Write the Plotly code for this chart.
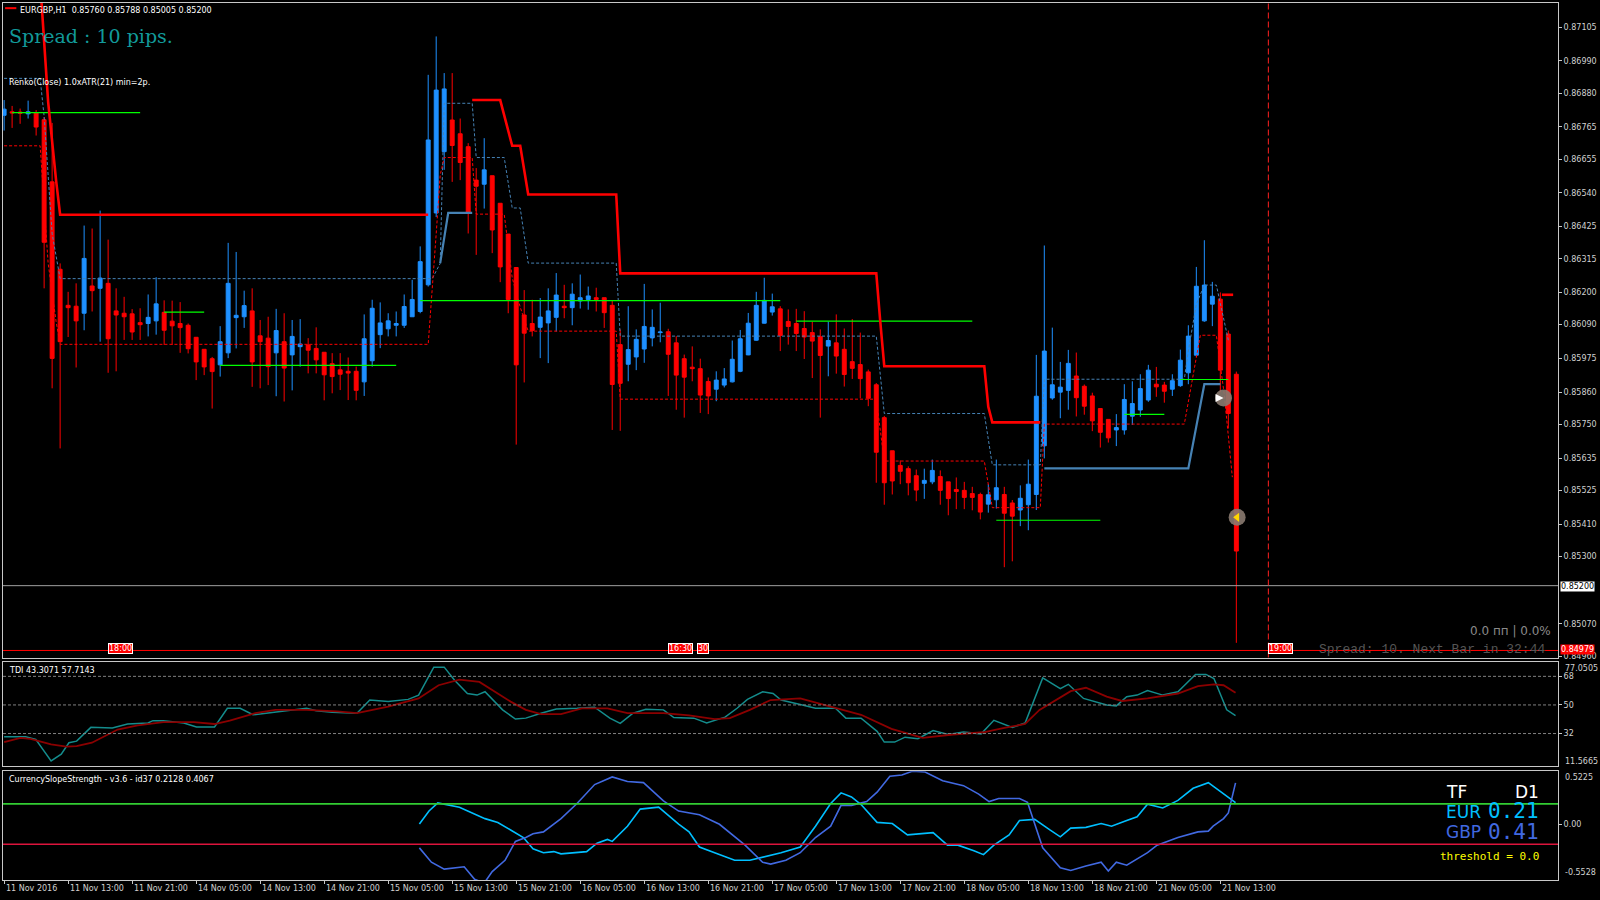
import plotly.graph_objects as go

# ---- EURGBP H1 candles (bar index 0 = 11 Nov 2016 05:00) ----
opens = [0.86804, 0.86816, 0.86815, 0.86809, 0.86813, 0.86789, 0.86577, 0.86279, 0.86156, 0.86153,
         0.86129, 0.86222, 0.86214, 0.86231, 0.86137, 0.86129, 0.86127, 0.86097, 0.86094, 0.86103,
         0.86132, 0.86102, 0.86094, 0.86088, 0.86047, 0.86006, 0.85974, 0.85953, 0.85994, 0.86114,
         0.86117, 0.86137, 0.86052, 0.86044, 0.85994, 0.86032, 0.85987, 0.86015, 0.86021, 0.86009,
         0.85996, 0.85957, 0.85936, 0.85931, 0.85931, 0.85895, 0.85967, 0.86056, 0.86076, 0.86088,
         0.86088, 0.86117, 0.86135, 0.86226, 0.86471, 0.86680, 0.86788, 0.86741, 0.86697, 0.86583,
         0.86569, 0.86598, 0.86504, 0.86399, 0.86285, 0.86123, 0.86094, 0.86081, 0.86096, 0.86115,
         0.86153, 0.86148, 0.86171, 0.86176, 0.86182, 0.86182, 0.86156, 0.86022, 0.85955, 0.85980,
         0.86007, 0.86045, 0.86063, 0.86066, 0.86028, 0.85974, 0.85945, 0.85940, 0.85896, 0.85870,
         0.85884, 0.85895, 0.85931, 0.85987, 0.86037, 0.86095, 0.86133, 0.86144, 0.86101, 0.86094,
         0.86077, 0.86063, 0.86049, 0.86017, 0.86028, 0.86006, 0.85964, 0.85954, 0.85929, 0.85885,
         0.85773, 0.85660, 0.85610, 0.85599, 0.85575, 0.85549, 0.85554, 0.85572, 0.85554, 0.85528,
         0.85525, 0.85514, 0.85511, 0.85478, 0.85493, 0.85511, 0.85482, 0.85458, 0.85476, 0.85511,
         0.85677, 0.85840, 0.85860, 0.85866, 0.85915, 0.85880, 0.85847, 0.85804, 0.85767, 0.85731,
         0.85731, 0.85778, 0.85799, 0.85833, 0.85887, 0.85884, 0.85870, 0.85882, 0.85926, 0.85986,
         0.86103, 0.86160, 0.86177, 0.86058, 0.85921]
highs = [0.86856, 0.86836, 0.86827, 0.86854, 0.86822, 0.86798, 0.86778, 0.86299, 0.86202, 0.86231,
         0.86428, 0.86418, 0.86479, 0.86380, 0.86214, 0.86185, 0.86143, 0.86146, 0.86193, 0.86252,
         0.86173, 0.86172, 0.86167, 0.86094, 0.86047, 0.86006, 0.85980, 0.86085, 0.86369, 0.86338,
         0.86206, 0.86214, 0.86106, 0.86117, 0.86144, 0.86129, 0.86106, 0.86109, 0.86044, 0.86081,
         0.85996, 0.85993, 0.85993, 0.85978, 0.85947, 0.86125, 0.86175, 0.86166, 0.86129, 0.86135,
         0.86193, 0.86243, 0.86357, 0.86942, 0.87073, 0.86948, 0.86948, 0.86793, 0.86709, 0.86624,
         0.86726, 0.86598, 0.86504, 0.86399, 0.86285, 0.86208, 0.86175, 0.86181, 0.86214, 0.86266,
         0.86226, 0.86231, 0.86261, 0.86220, 0.86216, 0.86182, 0.86173, 0.86074, 0.86153, 0.86074,
         0.86229, 0.86142, 0.86165, 0.86076, 0.86051, 0.85988, 0.86016, 0.85974, 0.85910, 0.85931,
         0.85942, 0.86036, 0.86072, 0.86130, 0.86202, 0.86250, 0.86196, 0.86153, 0.86142, 0.86144,
         0.86136, 0.86100, 0.86074, 0.86101, 0.86125, 0.86077, 0.86109, 0.86063, 0.85937, 0.85891,
         0.85779, 0.85660, 0.85627, 0.85607, 0.85596, 0.85599, 0.85630, 0.85593, 0.85554, 0.85569,
         0.85554, 0.85537, 0.85517, 0.85546, 0.85630, 0.85537, 0.85492, 0.85542, 0.85630, 0.85987,
         0.86360, 0.86080, 0.85963, 0.86004, 0.85995, 0.85886, 0.85858, 0.85804, 0.85767, 0.85785,
         0.85887, 0.85897, 0.85921, 0.85953, 0.85946, 0.85895, 0.85921, 0.86005, 0.86088, 0.86287,
         0.86378, 0.86236, 0.86200, 0.86070, 0.85930]
lows = [0.86752, 0.86761, 0.86775, 0.86793, 0.86735, 0.86214, 0.85873, 0.85668, 0.86048, 0.85944,
        0.86071, 0.86135, 0.86032, 0.85926, 0.85931, 0.86038, 0.86038, 0.86038, 0.86050, 0.86056,
        0.86021, 0.86021, 0.85994, 0.85992, 0.85901, 0.85918, 0.85804, 0.85913, 0.85976, 0.86009,
        0.86079, 0.85878, 0.85873, 0.85884, 0.85846, 0.85828, 0.85866, 0.85947, 0.85924, 0.85924,
        0.85832, 0.85856, 0.85867, 0.85833, 0.85832, 0.85847, 0.85947, 0.86010, 0.86050, 0.86050,
        0.86079, 0.86117, 0.86129, 0.86220, 0.86457, 0.86618, 0.86577, 0.86583, 0.86401, 0.86328,
        0.86486, 0.86334, 0.86235, 0.86129, 0.85681, 0.85893, 0.86050, 0.85976, 0.85959, 0.86067,
        0.86112, 0.86088, 0.86145, 0.86141, 0.86135, 0.86079, 0.85731, 0.85728, 0.85897, 0.85935,
        0.85960, 0.86016, 0.86030, 0.85847, 0.85800, 0.85773, 0.85897, 0.85789, 0.85785, 0.85829,
        0.85876, 0.85893, 0.85928, 0.85986, 0.86035, 0.86094, 0.86121, 0.86000, 0.86022, 0.86000,
        0.85973, 0.85908, 0.85773, 0.85914, 0.85923, 0.85879, 0.85905, 0.85839, 0.85812, 0.85551,
        0.85476, 0.85511, 0.85546, 0.85508, 0.85488, 0.85496, 0.85546, 0.85476, 0.85440, 0.85461,
        0.85461, 0.85457, 0.85426, 0.85449, 0.85463, 0.85263, 0.85283, 0.85403, 0.85389, 0.85458,
        0.85634, 0.85834, 0.85771, 0.85800, 0.85777, 0.85783, 0.85727, 0.85671, 0.85688, 0.85676,
        0.85715, 0.85748, 0.85776, 0.85827, 0.85844, 0.85824, 0.85847, 0.85878, 0.85887, 0.85980,
        0.86100, 0.86085, 0.85860, 0.85736, 0.85005]
closes = [0.86825, 0.86812, 0.86811, 0.86816, 0.86764, 0.86371, 0.85975, 0.86032, 0.86148, 0.86103,
          0.86316, 0.86206, 0.86249, 0.86042, 0.86123, 0.86117, 0.86065, 0.86090, 0.86115, 0.86161,
          0.86071, 0.86086, 0.86080, 0.86008, 0.85963, 0.85946, 0.85930, 0.86032, 0.86231, 0.86122,
          0.86155, 0.85963, 0.86032, 0.85947, 0.86070, 0.85942, 0.86050, 0.86024, 0.86003, 0.85970,
          0.85919, 0.85913, 0.85921, 0.85925, 0.85866, 0.86042, 0.86146, 0.86096, 0.86103, 0.86094,
          0.86152, 0.86176, 0.86305, 0.86720, 0.86890, 0.86894, 0.86701, 0.86643, 0.86471, 0.86562,
          0.86618, 0.86413, 0.86287, 0.86176, 0.85953, 0.86061, 0.86070, 0.86116, 0.86137, 0.86191,
          0.86148, 0.86194, 0.86182, 0.86188, 0.86176, 0.86131, 0.85886, 0.85890, 0.86005, 0.86040,
          0.86084, 0.86081, 0.86065, 0.85989, 0.85918, 0.85911, 0.85940, 0.85850, 0.85847, 0.85901,
          0.85905, 0.85972, 0.86042, 0.86095, 0.86156, 0.86173, 0.86151, 0.86053, 0.86084, 0.86060,
          0.86048, 0.86034, 0.85985, 0.86036, 0.85983, 0.85920, 0.85941, 0.85906, 0.85839, 0.85655,
          0.85551, 0.85557, 0.85590, 0.85551, 0.85526, 0.85559, 0.85593, 0.85525, 0.85497, 0.85521,
          0.85501, 0.85501, 0.85451, 0.85510, 0.85534, 0.85447, 0.85437, 0.85498, 0.85546, 0.85846,
          0.86000, 0.85885, 0.85877, 0.85958, 0.85841, 0.85812, 0.85762, 0.85723, 0.85704, 0.85739,
          0.85835, 0.85821, 0.85872, 0.85935, 0.85878, 0.85863, 0.85899, 0.85969, 0.86051, 0.86221,
          0.86225, 0.86187, 0.85935, 0.85787, 0.85318]
bars = list(range(len(closes)))

# Renko trail lines (bar position, price)
trail_red_x = [4.6, 5.5, 6.5, 7, 53, None, 58.5, 62, 63.5, 64.5, 65.5, 76.5, 77, 109, 109.5, 110,
               122.5, 123, 123.5, 129.5, None, 152.2, 153.6]
trail_red_y = [0.8722, 0.8685, 0.8658, 0.86465, 0.86465, None, 0.86856, 0.86856, 0.8670, 0.8670,
               0.86534, 0.86534, 0.86265, 0.86265, 0.8610, 0.85948, 0.85948, 0.8581, 0.85757, 0.85757,
               None, 0.86192, 0.86192]
upper_dash_x = [0, 4.5, 5, 5.5, 6, 7, 53.5, 54.5, 55, 58.5, 59, 62.5, 63.5, 64.5, 65.5, 76.5, 77,
                109, 110, 122.5, 123.5, 129.5, 130, 147.5, 148, 149, 150, 151.5, 152.5, 153]
upper_dash_y = [0.86930, 0.86930, 0.8680, 0.8660, 0.8640, 0.86247, 0.86247, 0.86299, 0.86845,
                0.86845, 0.8666, 0.8666, 0.86488, 0.86488, 0.86300, 0.86300, 0.86051, 0.86051,
                0.85787, 0.85787, 0.85612, 0.85612, 0.85904, 0.85904, 0.86000, 0.86160, 0.86225,
                0.86225, 0.8610, 0.86037]
lower_dash_x = [0, 4.5, 5, 5.5, 6.5, 7, 53, 53.5, 54, 54.5, 55, 58.5, 59, 62.5, 63.5, 64.5, 65.5,
                76.5, 77, 109, 110, 122.5, 123.5, 129.5, 130, 147.5, 148.5, 149.5, 151.5, 152.5, 153.5]
lower_dash_y = [0.86700, 0.86700, 0.8650, 0.8630, 0.8610, 0.86023, 0.86023, 0.8620, 0.8640, 0.8660,
                0.8666, 0.8666, 0.86467, 0.86467, 0.8625, 0.8615, 0.86068, 0.86068, 0.85836, 0.85836,
                0.85625, 0.85625, 0.85466, 0.85466, 0.85751, 0.85751, 0.8590, 0.86054, 0.86054,
                0.8585, 0.8557]
lower_solid_x = [54.5, 55.5, 58.5, None, 130, 148, 150, 152]
lower_solid_y = [0.8630, 0.86471, 0.86471, None, 0.85600, 0.85600, 0.85887, 0.85887]
green_start = [1, 20, 27, 52, 99, 124, 140, 147]
green_end = [17, 25, 49, 97, 121, 137, 145, 153]
green_level = [0.86813, 0.86133, 0.85951, 0.86172, 0.86102, 0.85423, 0.85784, 0.85903]

bid_price = 0.85200
ask_price = 0.84979
price_ticks = [0.87105, 0.86990, 0.86880, 0.86765, 0.86655, 0.86540, 0.86425, 0.86315, 0.86200,
               0.86090, 0.85975, 0.85860, 0.85750, 0.85635, 0.85525, 0.85410, 0.85300, 0.85070, 0.84960]

# TDI
tdi_sig_x = [0, 2.7, 3.95, 5.87, 7.14, 8.1, 9.06, 10.84, 13.52, 15.43, 17.98, 18.6, 19.9, 22.45, 24.04,
             26.3, 27.9, 29.5, 31.1, 32.6, 36.5, 37.8, 39.0, 41.0, 44.1, 45.7, 48.0, 50.5, 51.8, 53.7,
             55.0, 56.3, 57.9, 59.1, 60.1, 62.3, 63.9, 65.2, 67.1, 69.0, 71.6, 73.8, 75.7, 77.0, 78.6,
             80.2, 82.4, 83.7, 86.2, 87.8, 90.1, 91.6, 92.9, 94.8, 96.1, 97.1, 99.5, 101.4, 103.9, 105.2,
             107.1, 109.1, 110.0, 111.3, 112.6, 114.2, 116.1, 118.0, 119.9, 122.1, 123.7, 126.0, 127.6,
             129.8, 132.0, 133.0, 134.9, 137.8, 139.0, 140.3, 141.6, 142.9, 144.8, 146.7, 148.9, 150.2,
             151.2, 152.8, 153.9]
tdi_sig_y = [29.9, 29.9, 28.3, 14.8, 19.0, 26.2, 27.2, 35.9, 35.5, 38.0, 38.6, 40.1, 40.1, 38.6, 36.1,
             36.1, 47.9, 47.9, 43.8, 44.8, 47.5, 47.9, 46.3, 45.4, 44.8, 53.1, 52.1, 53.5, 56.2, 73.8,
             73.8, 65.5, 57.2, 56.2, 58.3, 46.9, 41.1, 41.7, 44.8, 47.5, 47.9, 48.6, 41.7, 38.4, 44.8,
             47.3, 46.9, 42.1, 41.7, 38.6, 42.3, 47.9, 53.5, 58.3, 57.2, 53.1, 50.3, 47.9, 47.9, 41.7,
             41.7, 33.4, 26.6, 26.6, 29.7, 28.7, 33.9, 31.4, 33.0, 31.8, 40.3, 35.9, 38.6, 67.0, 60.3,
             63.0, 54.1, 50.0, 49.4, 55.2, 56.2, 59.1, 56.2, 58.3, 69.2, 69.2, 66.6, 46.9, 43.3]
tdi_base_x = [0, 2.04, 3.3, 5.87, 7.78, 9.06, 10.97, 14.2, 16.7, 19.9, 23.7, 26.3, 28.2, 31.4, 33.9,
              37.8, 41.6, 44.1, 48.0, 51.8, 54.3, 56.9, 59.4, 61.4, 63.3, 65.2, 67.1, 69.6, 72.2, 75.4,
              77.9, 82.4, 85.6, 88.8, 90.7, 93.2, 95.8, 99.5, 103.3, 107.1, 110.9, 114.8, 118.6, 122.4,
              125.0, 127.6, 129.4, 132.0, 133.3, 135.2, 137.8, 139.7, 142.9, 146.7, 149.2, 151.2, 152.4,
              153.9]
tdi_base_y = [26.6, 29.3, 28.7, 25.2, 23.7, 24.1, 26.2, 34.5, 37.2, 39.2, 39.2, 38.0, 40.1, 44.8, 46.9,
              46.9, 45.9, 44.8, 49.0, 54.1, 62.4, 65.9, 64.5, 58.3, 52.1, 46.9, 44.2, 44.2, 47.9, 47.9,
              44.8, 44.8, 43.4, 41.1, 41.7, 46.9, 53.1, 54.1, 49.0, 43.8, 34.9, 29.3, 31.4, 32.8, 35.5,
              38.0, 46.9, 54.6, 58.7, 60.8, 55.2, 52.5, 54.1, 57.2, 61.8, 63.0, 62.4, 57.7]
tdi_levels = [68, 50, 32]
tdi_min, tdi_max = 11.5665, 77.0505

# Currency slope strength
eur_x = [51.9, 53.1, 54.2, 56.9, 60.1, 61.7, 63.3, 64.9, 66.1, 67.4, 68.7, 69.6, 72.8, 74.1, 75.4, 76.0,
         77.9, 79.5, 81.8, 84.3, 85.6, 86.9, 88.8, 91.3, 93.2, 95.2, 97.1, 99.5, 101.4, 103.3, 104.6,
         105.9, 107.1, 109.1, 111.0, 112.9, 114.8, 116.1, 117.9, 119.2, 121.2, 122.4, 123.7, 125.6,
         126.9, 128.8, 130.7, 132.0, 133.3, 135.2, 137.1, 138.4, 140.3, 141.6, 142.9, 144.8, 146.7,
         148.6, 150.5, 152.4, 153.9]
eur_y = [0.0, 0.13, 0.21, 0.167, 0.054, 0.016, -0.058, -0.133, -0.245, -0.283, -0.272, -0.294, -0.272,
         -0.189, -0.152, -0.171, -0.021, 0.148, 0.167, 0.0, -0.077, -0.227, -0.283, -0.358, -0.358,
         -0.321, -0.283, -0.227, -0.021, 0.204, 0.309, 0.268, 0.193, 0.017, 0.006, -0.107, -0.096,
         -0.084, -0.208, -0.208, -0.264, -0.302, -0.208, -0.107, 0.036, 0.047, -0.058, -0.126, -0.040,
         -0.032, 0.005, -0.021, 0.036, 0.073, 0.197, 0.159, 0.234, 0.354, 0.410, 0.298, 0.213]
gbp_x = [51.9, 53.4, 55.0, 57.5, 58.8, 60.0, 61.0, 62.6, 63.9, 65.2, 66.1, 67.4, 69.6, 71.6, 73.8, 76.0,
         77.9, 79.9, 82.4, 84.3, 86.9, 89.4, 92.6, 94.8, 95.8, 97.7, 99.5, 101.4, 103.3, 104.6, 105.9,
         107.8, 109.1, 110.7, 112.2, 113.5, 115.1, 117.3, 119.9, 121.8, 123.1, 124.3, 126.9, 127.9,
         129.8, 130.7, 132.0, 133.3, 135.2, 137.1, 138.0, 139.0, 140.3, 142.9, 144.1, 146.7, 149.2,
         150.5, 151.1, 152.4, 153.0, 153.9]
gbp_y = [-0.235, -0.377, -0.445, -0.422, -0.546, -0.583, -0.470, -0.358, -0.171, -0.133, -0.096, -0.077,
         0.054, 0.204, 0.391, 0.466, 0.421, 0.410, 0.230, 0.129, 0.092, -0.002, -0.208, -0.377, -0.396,
         -0.358, -0.283, -0.133, -0.021, 0.185, 0.185, 0.223, 0.316, 0.473, 0.485, 0.522, 0.515, 0.429,
         0.380, 0.297, 0.223, 0.253, 0.253, 0.215, -0.234, -0.320, -0.433, -0.459, -0.414, -0.377,
         -0.463, -0.377, -0.407, -0.283, -0.208, -0.133, -0.077, -0.070, -0.021, 0.054, 0.110, 0.407]
css_levels = [0.2, -0.2]
css_min, css_max = -0.5528, 0.5225

time_pos = list(range(0, 153, 8))
time_text = ["11 Nov 2016", "11 Nov 13:00", "11 Nov 21:00", "14 Nov 05:00", "14 Nov 13:00",
             "14 Nov 21:00", "15 Nov 05:00", "15 Nov 13:00", "15 Nov 21:00", "16 Nov 05:00",
             "16 Nov 13:00", "16 Nov 21:00", "17 Nov 05:00", "17 Nov 13:00", "17 Nov 21:00",
             "18 Nov 05:00", "18 Nov 13:00", "18 Nov 21:00", "21 Nov 05:00", "21 Nov 13:00"]

# ---- layout helpers: positions measured on the screenshot ----
ML, MR, MT, MB = 3, 42, 3, 20
PW, PH = 1600 - ML - MR, 900 - MT - MB


def px(x):
    return (x / 0.98 - ML) / PW


def py(y):
    return (900 - MB - y / 0.98) / PH


FONT = "DejaVu Sans"
DASH = "3px,2px"
fig = go.Figure()

fig.add_trace(go.Candlestick(
    x=bars, open=opens, high=highs, low=lows, close=closes,
    increasing=dict(line=dict(color="#1e90ff", width=1), fillcolor="#1e90ff"),
    decreasing=dict(line=dict(color="#ff0000", width=1), fillcolor="#ff0000"),
    whiskerwidth=0, hoverinfo="skip", xaxis="x", yaxis="y"))

fig.add_trace(go.Scatter(x=upper_dash_x, y=upper_dash_y, mode="lines",
                         line=dict(color="#4682b4", width=1, dash=DASH)))
fig.add_trace(go.Scatter(x=lower_dash_x, y=lower_dash_y, mode="lines",
                         line=dict(color="#ff0000", width=1, dash=DASH)))
fig.add_trace(go.Scatter(x=lower_solid_x, y=lower_solid_y, mode="lines",
                         line=dict(color="#4682b4", width=2.2)))
gx, gy = [], []
for s, e, v in zip(green_start, green_end, green_level):
    gx += [s, e, None]
    gy += [v, v, None]
fig.add_trace(go.Scatter(x=gx, y=gy, mode="lines", line=dict(color="#00ff00", width=1.2)))
fig.add_trace(go.Scatter(x=trail_red_x, y=trail_red_y, mode="lines",
                         line=dict(color="#ff0000", width=2.6)))
fig.add_trace(go.Scatter(x=[152.4, 154.1], y=[0.85840, 0.85433], mode="markers",
                         marker=dict(size=17, color="#8a7a70", opacity=0.9)))
fig.add_trace(go.Scatter(x=[152.4, 154.1], y=[0.85840, 0.85433], mode="markers",
                         marker=dict(size=8, symbol=["arrow-right", "triangle-left"],
                                     color=["#ffffff", "#ffd700"])))

# TDI panel
fig.add_trace(go.Scatter(x=tdi_sig_x, y=tdi_sig_y, mode="lines", xaxis="x2", yaxis="y2",
                         line=dict(color="#148c8c", width=1.5)))
fig.add_trace(go.Scatter(x=tdi_base_x, y=tdi_base_y, mode="lines", xaxis="x2", yaxis="y2",
                         line=dict(color="#8b0000", width=1.8)))

# CSS panel
fig.add_trace(go.Scatter(x=eur_x, y=eur_y, mode="lines", xaxis="x3", yaxis="y3",
                         line=dict(color="#00bfff", width=1.6)))
fig.add_trace(go.Scatter(x=gbp_x, y=gbp_y, mode="lines", xaxis="x3", yaxis="y3",
                         line=dict(color="#4169e1", width=1.6)))

shapes = []
for lv in tdi_levels:
    shapes.append(dict(type="line", xref="x2 domain", yref="y2", x0=0, x1=1, y0=lv, y1=lv,
                       line=dict(color="#808080", width=1, dash=DASH)))
for lv, col in zip(css_levels, ["#32cd32", "#dc143c"]):
    shapes.append(dict(type="line", xref="x3 domain", yref="y3", x0=0, x1=1, y0=lv, y1=lv,
                       line=dict(color=col, width=1.6)))
shapes.append(dict(type="line", xref="x domain", yref="y", x0=0, x1=1, y0=bid_price, y1=bid_price,
                   line=dict(color="#a0a0a0", width=1)))
shapes.append(dict(type="line", xref="x domain", yref="y", x0=0, x1=1, y0=ask_price, y1=ask_price,
                   line=dict(color="#ff0000", width=1)))
shapes.append(dict(type="line", xref="x", yref="y domain", x0=158, x1=158, y0=0, y1=1,
                   line=dict(color="#ff2020", width=1, dash="6px,3px")))
shapes.append(dict(type="line", xref="paper", yref="paper", x0=px(5), x1=px(16), y0=py(8), y1=py(8),
                   line=dict(color="#ff0000", width=2)))

ann = []
for p, t in zip(time_pos, time_text):
    ann.append(dict(x=p, y=0, xref="x3", yref="paper", text=t, showarrow=False, xanchor="left",
                    yanchor="top", xshift=0, yshift=-2, font=dict(family=FONT, size=8, color="#d0d0d0")))


def label(x, y, text, size=8, color="#ffffff", anchor="left", family=FONT, **kw):
    ann.append(dict(x=px(x), y=py(y), xref="paper", yref="paper", text=text, showarrow=False,
                    xanchor=anchor, yanchor="middle", font=dict(family=family, size=size, color=color), **kw))


label(18, 10, "EURGBP,H1  0.85760 0.85788 0.85005 0.85200")
label(7, 35, "Spread : 10 pips.", size=19, color="#129a9a", family="DejaVu Serif")
label(7, 81, "Renko(Close) 1.0xATR(21) min=2p.")
label(1522, 618, "0.0 пп | 0.0%", size=12, color="#8a8a8a", anchor="right")
label(1516, 637, "Spread: 10. Next Bar in 32:44", size=13, color="#555555", anchor="right",
      family="Liberation Mono")
label(7, 657, "TDI 43.3071 57.7143")
label(7, 764, "CurrencySlopeStrength - v3.6 - id37 0.2128 0.4067")
label(1415, 776, "TF", size=17)
label(1510, 776, "D1", size=17, anchor="right")
label(1415, 796, "EUR", size=17, color="#00bfff")
label(1510, 795, "0.21", size=21, color="#00bfff", anchor="right", family="DejaVu Sans Mono")
label(1415, 815, "GBP", size=17, color="#4169e1")
label(1510, 815, "0.41", size=21, color="#4169e1", anchor="right", family="DejaVu Sans Mono")
label(1510, 839, "threshold = 0.0", size=11, color="#ffff00", anchor="right", family="DejaVu Sans Mono")
for x, t in [(106, "18:00"), (655, "16:30"), (683, "30"), (1243, "19:00")]:
    label(x, 636, t, size=8, bgcolor="#ff0000", bordercolor="#ffffff", borderwidth=1, borderpad=0)
label(1529, 575, "0.85200", bgcolor="#ffffff", color="#000000", borderpad=0)
label(1529, 637, "0.84979", bgcolor="#ff0000", color="#ffffff", borderpad=0)
# panel min/max labels sit just inside the panel edges
label(1532, 655, f"{tdi_max:.4f}", color="#d0d0d0")
label(1532, 746, f"{tdi_min:.4f}", color="#d0d0d0")
label(1532, 762, f"{css_max:.4f}", color="#d0d0d0")
label(1532, 855, f"{css_min:.4f}", color="#d0d0d0")

axis_common = dict(range=[-0.14, 194.2], showgrid=False, zeroline=False, showline=True, mirror=True,
                   linecolor="#c8c8c8", linewidth=1, fixedrange=True)
yfont = dict(family=FONT, size=8, color="#d0d0d0")
ycommon = dict(side="right", showgrid=False, zeroline=False, showline=True, mirror=True,
               linecolor="#c8c8c8", ticks="outside", ticklen=3, tickcolor="#c8c8c8", tickfont=yfont,
               automargin=False)

fig.update_layout(
    width=1600, height=900, margin=dict(l=ML, r=MR, t=MT, b=MB, autoexpand=False),
    paper_bgcolor="#000000", plot_bgcolor="#000000", showlegend=False,
    xaxis=dict(axis_common, anchor="y", showticklabels=False, rangeslider=dict(visible=False)),
    xaxis2=dict(axis_common, anchor="y2", matches="x", showticklabels=False),
    xaxis3=dict(axis_common, anchor="y3", matches="x", showticklabels=False, ticks="outside",
                ticklen=3, tickcolor="#c8c8c8", tickvals=time_pos),
    yaxis=dict(ycommon, domain=[0.2537, 1.0], range=[0.84955, 0.87187],
               tickvals=price_ticks, ticktext=[f"{v:.5f}" for v in price_ticks]),
    yaxis2=dict(ycommon, domain=[0.130, 0.2486], range=[tdi_min, tdi_max],
                tickvals=tdi_levels, ticktext=[str(v) for v in tdi_levels]),
    yaxis3=dict(ycommon, domain=[0.0, 0.124], range=[css_min, css_max],
                tickvals=[0.0], ticktext=["0.00"]),
    shapes=shapes, annotations=ann,
)

fig.write_html("out.html", config={"displayModeBar": False},
               post_script="document.body.style.margin='0px';")
